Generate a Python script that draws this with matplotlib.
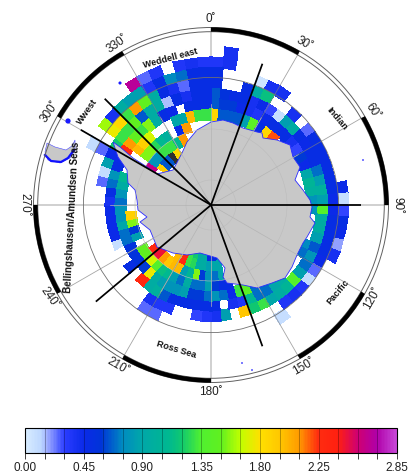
#!/usr/bin/env python
# Southern ocean map, polar stereographic, 5 x 2 degree cells
import numpy as np
import matplotlib
matplotlib.use("Agg")
import matplotlib.pyplot as plt
from matplotlib.colors import LinearSegmentedColormap, Normalize
from matplotlib.cm import ScalarMappable
from matplotlib.patches import Wedge, Circle, Polygon

plt.rcParams['font.family'] = ['Liberation Sans', 'DejaVu Sans']

n = np.nan

# one list per latitude band, 72 values, lon bins 0-5, 5-10 ... going east
lat_60 = [n, .4] + [n]*70
lat_62 = [.35, .4] + [n]*63 + [2.65, .25, .35, n, .35, .4, .35]
lat_64 = [.5, n, n, n, .05, .4, .4, n, n, n, n, n,
          n, n, n, n, .45, .08, .3, .5, .45, .18, .4, n,
          n, n, n, n, n, .08, n, n, n, n, n, n,
          n, n, n, n, n, n, n, n, n, n, n, n,
          n, n, n, n, n, n, n, n, n, n, n, .1,
          n, 1.6, .4, .95, .85, .85, .35, .5, .75, .7, .5, .5]
lat_66 = [.5, n, n, .5, .95, 1.15, n, n, .4, n, .25, .5,
          .5, .5, .5, .5, .5, .45, .45, .5, .5, .5, .5, .45,
          .25, .1, .35, .4, .35, n, n, n, n, n, n, n,
          n, n, n, n, n, .25, .25, n, n, n, n, n,
          n, n, n, n, n, n, n, n, n, n, n, .25,
          n, 1.75, 1.85, 1.3, 2.1, 1.5, .95, .5, .4, .25, .5, .5]
lat_68 = [.65, .55, .5, .5, .4, .45, .3, .08, .85, .95, .5, .45,
          .5, .5, .7, .85, 1.0, .85, 1.4, .95, .95, .85, .65, .8,
          .7, .85, 1.4, 1.05, .95, .9, 1.3, 1.2, 1.95, n, .85, .4,
          .35, .3, n, n, .35, .35, .4, n, n, n, n, n,
          n, n, n, n, n, n, n, n, .25, .1, .85, .45,
          1.2, 1.3, 1.3, 1.5, .65, .95, .95, .15, .5, .4, .5, .5]
lat_70 = [.65, .6, .6, .45, .4, .35, .45, .5, .5, .5, .4, .3,
          .6, .45, .9, 1.05, 1.0, .8, .8, n, n, n, .75, .7,
          n, n, n, .95, .9, .7, .7, 1.1, .35, .4, n, .5,
          .5, .5, .5, .5, .5, .65, 1.0, .95, 2.3, n, .5, n,
          n, .08, .45, .45, .45, .45, .4, .5, .7, .8, .5, .45,
          2.3, 2.1, 1.5, 1.3, 1.55, .95, .5, .45, n, .5, .5, .5]
lat_72 = [1.85, .65, .65, .65, .85, 1.45, .5, 1.85, 2.2, n, n, n,
          n, n, n, n, n, n, n, n, n, n, n, n,
          n, n, n, n, n, .7, .7, 1.45, 1.3, .45, .7, .8,
          .7, .6, .6, .85, .8, .8, .85, .95, 1.75, .6, .55, .55,
          .55, .7, .7, .9, .8, .8, .7, .8, .95, 1.1, n, n,
          n, 2.0, 1.9, 1.7, n, n, n, .9, .9, 2.0, 1.3, 1.3]
lat_74 = [n]*33 + [.5, .5, .6, .85, .7, .7, .95, .7, .85, 1.1, 1.15, 1.4, 1.7, 1.5, 1.5] \
    + [n, .85, .6, 1.55, 1.9] + [n]*8 + [1.55, 1.55, 1.25, 1.1, 1.0, n, .45, 2.1] + [n]*3
lat_76 = [n]*34 + [.9, .7, .8, .6, 1.55, 1.05, .85, 2.0, 2.0, 1.95, 2.1, 2.45, 2.3] \
    + [n]*13 + [2.6, .8, .8, 1.3, 1.3, 1.3, 1.1, 2.1] + [n]*4
lat_78 = [n]*34 + [.9, .9, .85, .95, .95, 1.25, 1.3, 2.3, 2.0] \
    + [n]*18 + [1.9, .65, .65, 3.0, 1.85] + [n]*6
lat_80 = [n]*35 + [.5, .5, .95, .95, 1.2, 1.3, 2.3, 2.3] + [n]*29

# coast, pole = 0,0
coast_x = [0, 12, 22, 32, 46, 51, 52, 66, 79, 82, 89, 84, 92, 99, 101, 99, 104, 96, 92, 86, 81, 74,
           61, 46, 32, 16, 12, 14, 6, -11, -24, -38, -54, -61, -71, -64, -73, -74, -76, -83, -84,
           -93, -98, -91, -78, -64, -54, -38, -29, -24, -14]
coast_y = [83, 85, 82, 77, 73, 72, 67, 65, 60, 48, 38, 25, 15, 5, -2, -12, -18, -32, -38, -50, -62, -73,
           -78, -83, -80, -78, -72, -63, -53, -48, -50, -48, -42, -25, -17, -12, -5, 5, 15, 22, 35,
           48, 63, 58, 47, 38, 31, 35, 52, 63, 75]
peninsula_x = [-164, -156, -145, -139, -136, -136, -141, -151, -163, -166]
peninsula_y = [62, 58, 55, 59, 65, 55, 47, 42, 45, 53]
shore_x = [-166, -160, -150, -143, -137]
shore_y = [50, 44, 43, 47, 55]
island_x = [-143, -91, 152, 31, 41]
island_y = [84, 122, 45, -158, -165]
island_size = [14, 5, 1.5, 1.5, 1.5]

sector_lons = [20, 90, 160, 230, 300, 315]
meridians = [30, 60, 120, 150, 210, 240, 300, 330]
cardinals = [0, 90, 180, 270]
lon_labels = [0, 30, 60, 90, 120, 150, 180, 210, 240, 270, 300, 330]
lon_label_rot = [0, -30, -55, -90, 60, 30, 0, -30, -55, -90, 55, 35]

cbar_ticks = [0.15*i for i in range(20)]
cbar_labels = ['0.00', '', '', '0.45', '', '', '0.90', '', '', '1.35', '', '', '1.80', '', '', '2.25', '', '', '', '2.85']

cmap_vals = [0, .12, .17, .3, .45, .58, .75, .9, 1.1, 1.2, 1.35, 1.5, 1.65, 1.8, 1.95, 2.1, 2.25, 2.4, 2.55, 2.7, 2.85]
cmap_cols = ['#d8ecff', '#bcd6ff', '#9aa8ff', '#2a3cff', '#0a2ae8', '#0034d8', '#008cc0', '#00a8a8', '#00b890',
             '#10c870', '#50f030', '#60f020', '#c0ff00', '#ffe000', '#ffc800', '#ff9c00', '#ff2c10', '#ff2010',
             '#d00070', '#b000a8', '#c848d8']
cmap = LinearSegmentedColormap.from_list('ice', [(v/2.85, c) for v, c in zip(cmap_vals, cmap_cols)])
cmap.set_over('#303030')
cmap.set_bad((1, 1, 1, 0))
norm = Normalize(0, 2.85)


def stereo(lon, lat):
    r = 571*np.tan(np.radians(90 - lat)/2)
    return r*np.sin(np.radians(lon)), r*np.cos(np.radians(lon))


fig = plt.figure(figsize=(4.09, 4.73), dpi=100)
ax = fig.add_axes([0, 0, 1, 1])
ax.set_xlim(-211, 198)
ax.set_ylim(-268, 205)
ax.axis('off')

# grid
bands = [lat_60, lat_62, lat_64, lat_66, lat_68, lat_70, lat_72, lat_74, lat_76, lat_78, lat_80]
vals = np.ma.masked_invalid(np.array(bands, dtype=float))
lon_e, lat_e = np.meshgrid(np.arange(0, 365, 5), np.arange(59, 83, 2))
X, Y = stereo(lon_e, lat_e)

for lon in cardinals:
    x, y = stereo(lon, 55.5)
    ax.plot([0, x], [0, y], color='#c8c8c8', lw=1.2, zorder=1)

ax.pcolormesh(X, Y, vals, cmap=cmap, norm=norm, shading='flat', edgecolors='face', linewidth=0.2, zorder=2)

# graticule over the cells, land covers it
for lon in meridians:
    x, y = stereo(lon, 55.9)
    ax.plot([0, x], [0, y], color='#808080', lw=0.6, alpha=0.7, zorder=2.5)
ax.add_patch(Circle((0, 0), 127.6, fc='none', ec='#707070', lw=0.6, zorder=2.5))

ax.add_patch(Polygon(np.column_stack([coast_x, coast_y]), fc='#c8c8c8', ec='#2a2aff', lw=0.6, zorder=3))
ax.add_patch(Polygon(np.column_stack([peninsula_x, peninsula_y]), fc='#c8c8c8', ec='#4a4aff', lw=0.4, zorder=3))
ax.plot(shore_x, shore_y, color='#1010ff', lw=1.6, zorder=3)
ax.scatter(island_x, island_y, s=island_size, color='#1a1aff', lw=0, zorder=3)

# same lines, faint on the land
for lon in meridians + cardinals:
    x, y = stereo(lon, 70)
    ax.plot([0, x], [0, y], color='#b4b4b4', lw=0.5, zorder=4)
for r in [25, 76]:
    ax.add_patch(Circle((0, 0), r, fc='none', ec='#bcbcbc', lw=0.4, zorder=3.5))

# frame
ax.add_patch(Circle((0, 0), 177.5, fc='none', ec='#606060', lw=0.7, zorder=5))
ax.add_patch(Circle((0, 0), 173.3, fc='none', ec='#606060', lw=0.7, zorder=5))
for lon in range(0, 360, 60):
    ax.add_patch(Wedge((0, 0), 177.7, 90 - lon - 30, 90 - lon, width=4.4, fc='k', ec='none', zorder=6))

for lon in sector_lons:
    x, y = stereo(lon, 60.5)
    ax.plot([0, x], [0, y], color='k', lw=1.25, zorder=7, solid_capstyle='butt')

for lon, rot in zip(lon_labels, lon_label_rot):
    x = 186.5*np.sin(np.radians(lon))
    y = 186.5*np.cos(np.radians(lon))
    ax.text(x, y, f"{lon}\u02da", fontsize=8.5, ha='center', va='center', rotation=rot,
            rotation_mode='anchor', color='#202020', zorder=8)

region_labels = ["Weddell east", "Wwest", "Indian", "Bellingshausen/Amundsen Seas", "Pacific", "Ross Sea"]
region_x = [-41, -124, 126, -139, 127, -35]
region_y = [147, 93, 86, -12, -87, -145]
region_rot = [15, 55, -50, 87, 50, -17]
region_size = [6.6, 6.6, 6.6, 7.0, 6.6, 6.6]
for txt, x, y, rot, fs in zip(region_labels, region_x, region_y, region_rot, region_size):
    ax.text(x, y, txt, fontsize=fs, fontweight='bold', ha='center', va='center', rotation=rot,
            rotation_mode='anchor', color='#111111', zorder=8)

# colorbar
cax = fig.add_axes([25/409, 1 - 452.5/473, 372/409, 25/473])
cb = fig.colorbar(ScalarMappable(norm=norm, cmap=cmap), cax=cax, orientation='horizontal')
cb.set_ticks(cbar_ticks, labels=cbar_labels)
cb.ax.tick_params(length=4, width=0.6, labelsize=8.5, pad=3, colors='#202020')
cb.ax.minorticks_off()
cb.outline.set_linewidth(0.8)
cb.ax.vlines(cbar_ticks[1:-1], 0, 1, color='k', lw=0.5, alpha=0.4, transform=cb.ax.get_xaxis_transform())

fig.savefig('out.png', dpi=100)
